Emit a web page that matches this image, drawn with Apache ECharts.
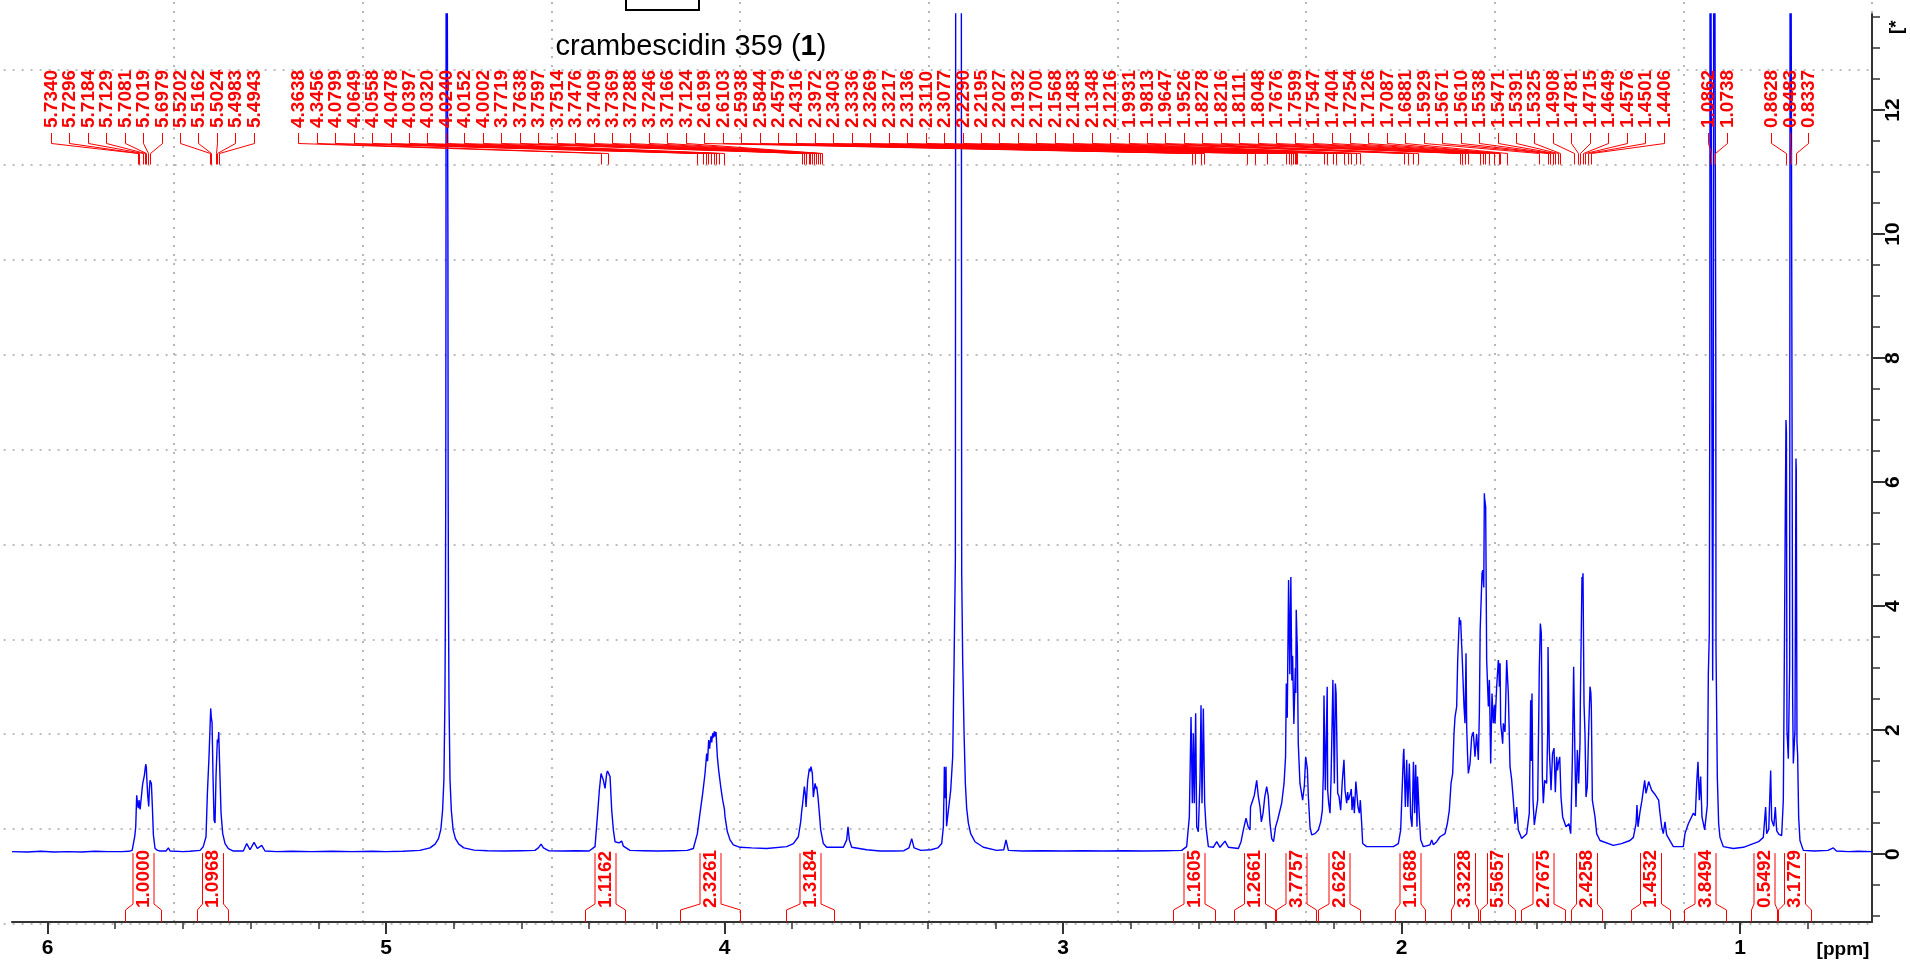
<!DOCTYPE html>
<html><head><meta charset="utf-8">
<script src="https://cdn.jsdelivr.net/npm/echarts@6/dist/echarts.min.js"></script>
<style>html,body{margin:0;padding:0;background:#fff;}#chart{width:1910px;height:962px;}</style>
</head><body><div id="chart"></div>
<script>
const FONT = '"Liberation Sans", Arial, Helvetica, sans-serif';

// ---- spectrum trace [ppm, intensity] ----
const specA = [[6.105,0.04],[6.06,0.035],[6.02,0.045],[5.98,0.035],[5.94,0.04],[5.90,0.035],[5.86,0.045],[5.82,0.04],[5.78,0.04],[5.76,0.045],[5.750,0.06],
[5.7464,0.09],[5.7420,0.30],[5.7395,0.44],[5.7366,0.95],[5.7340,0.80],[5.7317,0.74],[5.7296,0.87],[5.7265,0.72],[5.7248,0.71],[5.7198,1.09],[5.7184,1.15],[5.7139,1.27],[5.7100,1.45],[5.7081,1.40],[5.7070,1.25],[5.7041,0.95],[5.7011,0.77],[5.6990,1.05],[5.6972,1.19],[5.6932,1.14],[5.6903,0.76],[5.6873,0.31],[5.6824,0.09],[5.6750,0.06],[5.6676,0.05],[5.6500,0.05],[5.6430,0.10],[5.6380,0.05],[5.6332,0.04],[5.60,0.04]];
const specB = [[5.58,0.045],[5.5495,0.06],[5.5400,0.12],[5.5318,0.28],[5.5278,0.98],[5.5229,1.58],[5.5202,2.0],[5.5180,2.35],[5.5162,2.2],[5.5140,2.13],[5.5111,1.25],[5.5081,0.55],[5.5052,0.50],[5.5022,1.27],[5.4983,1.85],[5.4960,1.80],[5.4943,1.97],[5.4914,1.41],[5.4874,0.66],[5.4825,0.33],[5.4756,0.17],[5.4658,0.09],[5.4510,0.05],[5.4215,0.05],[5.4116,0.17],[5.4018,0.07],[5.3899,0.19],[5.3801,0.09],[5.3673,0.14],[5.3575,0.05],[5.3230,0.04],[5.28,0.045],[5.22,0.04],[5.16,0.045],[5.10,0.04],[5.04,0.045],[5.0,0.04]];
const specC = [[4.95,0.045],[4.90,0.06],[4.87,0.10],[4.855,0.16],[4.845,0.25],[4.838,0.40],[4.833,0.70],[4.829,1.2],[4.826,2.5],[4.8245,4],[4.8235,6],[4.8228,10],[4.822,20],[4.818,20],[4.8172,10],[4.8165,6],[4.8155,4],[4.814,2.5],[4.811,1.2],[4.807,0.7],[4.802,0.4],[4.795,0.25],[4.785,0.16],[4.77,0.10],[4.74,0.065],[4.70,0.055],[4.65,0.05],[4.60,0.055],[4.56,0.06],[4.550,0.10],[4.542,0.16],[4.535,0.10],[4.52,0.055],[4.48,0.05],[4.44,0.055],[4.40,0.05]];
const specD = [[4.3826,0.12],[4.3757,0.60],[4.3698,1.03],[4.3648,1.30],[4.3609,1.27],[4.3579,1.19],[4.3530,1.06],[4.3481,1.30],[4.3456,1.34],[4.3432,1.32],[4.3382,1.25],[4.3333,0.71],[4.3284,0.39],[4.3235,0.20],[4.3186,0.23],[4.3117,0.18],[4.3038,0.21],[4.2989,0.13],[4.2792,0.06],[4.24,0.055],[4.20,0.05],[4.15,0.055],[4.11,0.06],
[4.0921,0.09],[4.0803,0.33],[4.0724,0.66],[4.0645,0.98],[4.0576,1.30],[4.0527,1.62],[4.0500,1.50],[4.0468,1.84],[4.0440,1.70],[4.0428,1.78],[4.0400,1.90],[4.0379,1.80],[4.0350,1.95],[4.0330,1.88],[4.0300,1.98],[4.0281,1.90],[4.0251,1.97],[4.0230,1.75],[4.0212,1.57],[4.0172,1.35],[4.0152,1.38],[4.0113,1.09],[4.0054,0.87],[4.0002,0.72],[3.9985,0.60],[3.9916,0.36],[3.9837,0.23],[3.9739,0.15],[3.9542,0.11],[3.92,0.10],[3.8754,0.09],[3.8163,0.12],
[3.7966,0.17],[3.7819,0.28],[3.7750,0.52],[3.7719,0.70],[3.7691,0.82],[3.7641,1.09],[3.7610,0.95],[3.7592,0.76],[3.7543,1.19],[3.7514,1.30],[3.7494,1.38],[3.7476,1.33],[3.7445,1.41],[3.7405,1.30],[3.7376,0.92],[3.7326,1.14],[3.7288,1.05],[3.7277,1.09],[3.7238,0.92],[3.7198,0.66],[3.7159,0.39],[3.7080,0.17],[3.6982,0.11],[3.6489,0.11],[3.6391,0.23],[3.6352,0.44],[3.6312,0.23],[3.6243,0.11],[3.5800,0.07],[3.5406,0.05]];
const specE = [[3.50,0.05],[3.47,0.055],[3.455,0.10],[3.447,0.25],[3.440,0.10],[3.42,0.06],[3.39,0.07],[3.37,0.10],[3.3584,0.17],[3.3535,0.44],[3.3515,1.0],[3.3505,1.41],[3.3480,0.9],[3.3456,1.41],[3.3440,0.45],[3.3387,0.44],[3.3318,1.03],[3.3259,1.57],[3.3220,3.02],[3.3180,4.74],[3.3165,20],[3.3010,20],[3.2993,4.53],[3.2964,3.13],[3.2924,1.97],[3.2885,1.14],[3.2846,0.74],[3.2796,0.50],[3.2728,0.33],[3.2600,0.20],[3.2353,0.11],[3.1959,0.06],[3.1750,0.07],[3.1684,0.23],[3.1615,0.06],[3.12,0.05],[3.06,0.055],[3.00,0.05],[2.94,0.055],[2.88,0.05],[2.82,0.055],[2.76,0.05],[2.70,0.055]];
const specF = [[2.6494,0.06],[2.6347,0.12],[2.6268,0.60],[2.6218,2.21],[2.6179,0.82],[2.6150,1.95],[2.6120,0.82],[2.6081,2.27],[2.6051,0.44],[2.6002,0.36],[2.5953,1.19],[2.5923,2.40],[2.5894,0.82],[2.5854,2.35],[2.5815,0.82],[2.5775,0.44],[2.5706,0.12],[2.5559,0.11],[2.5460,0.20],[2.5362,0.11],[2.5214,0.21],[2.5116,0.11],[2.4820,0.09],[2.4740,0.20],
[2.4672,0.39],[2.4593,0.58],[2.4530,0.44],[2.4475,0.39],[2.4460,0.76],[2.4347,0.95],[2.4278,1.19],[2.4230,0.93],[2.4180,0.76],[2.4140,0.52],[2.4090,0.66],[2.4040,0.92],[2.3983,1.09],[2.3935,0.93],[2.3885,0.50],[2.3834,0.25],[2.3780,0.20],[2.3720,0.44],[2.3660,0.55],[2.3540,0.82],[2.3470,1.14],[2.3425,1.57],[2.3403,2.75],[2.3375,2.2],[2.3336,4.42],[2.3300,2.9],[2.3269,4.47],[2.3240,2.8],[2.3217,3.2],[2.3180,2.1],[2.3136,3.0],[2.3123,2.6],[2.3110,3.94],[2.3077,3.3],[2.3050,1.79],[2.3000,1.14],[2.2920,0.87],[2.2870,1.10],[2.2831,1.57],[2.2781,1.38],[2.2752,0.93],[2.2703,0.44],[2.2653,0.31],[2.2555,0.33],[2.2456,0.39],[2.2387,0.52],[2.2338,0.71],[2.2309,1.30],[2.2290,2.56],[2.2250,1.03],[2.2195,2.70],[2.2181,1.03],[2.2151,0.82],[2.2112,0.66],[2.2082,1.19],[2.2043,2.32],[2.2027,2.81],[2.1984,1.14],[2.1954,2.75],[2.1932,2.59],[2.1885,0.98],[2.1846,0.93],[2.1797,0.71],[2.1747,1.19],[2.1700,1.52],[2.1669,1.03],[2.1619,0.82],[2.1590,1.0],[2.1568,0.87],[2.1501,1.0],[2.1483,1.05],[2.1462,0.71],[2.1423,0.93],[2.1393,0.66],[2.1348,1.17],[2.1285,0.76],[2.1245,0.66],[2.1216,0.87],[2.1176,0.49],[2.1147,0.17],[2.1029,0.12],[2.06,0.12],[2.0241,0.12]];
const specG = [[2.0093,0.17],[2.0024,0.39],[1.9975,1.14],[1.9945,1.60],[1.9931,1.70],[1.9886,0.76],[1.9847,1.52],[1.9813,0.76],[1.9768,1.46],[1.9729,0.60],[1.9689,0.44],[1.9647,1.49],[1.9611,0.66],[1.9581,1.44],[1.9542,0.44],[1.9526,1.25],[1.9473,0.60],[1.9433,0.23],[1.9355,0.12],[1.9157,0.15],[1.9108,0.23],[1.9059,0.15],[1.8961,0.20],[1.8862,0.28],[1.8714,0.33],[1.8646,0.49],[1.8587,0.71],[1.8537,1.14],[1.8488,1.30],[1.8449,1.94],[1.8419,2.21],[1.8370,2.38],[1.8340,3.13],[1.8291,3.82],[1.8278,3.70],[1.8252,3.77],[1.8222,3.35],[1.8216,3.30],[1.8193,2.97],[1.8153,2.38],[1.8124,2.11],[1.8111,2.60],[1.8094,3.24],[1.8074,2.05],[1.8048,1.60],[1.8025,1.30],[1.7976,1.46],[1.7927,1.89],[1.7878,1.97],[1.7829,1.57],[1.7780,1.94],[1.7730,1.52],[1.7700,2.27],[1.7676,3.61],[1.7621,4.53],[1.7599,4.58],[1.7570,4.30],[1.7552,5.82],[1.7547,5.75],[1.7513,5.60],[1.7484,3.13],[1.7434,2.38],[1.7404,2.81],[1.7365,1.46],[1.7326,2.59],[1.7287,2.11],[1.7254,2.40],[1.7237,2.11],[1.7188,2.70],[1.7139,3.13],[1.7126,3.05],[1.7109,2.70],[1.7087,3.08],[1.7070,2.11],[1.7011,1.78],[1.6991,2.11],[1.6942,1.97],[1.6893,3.13],[1.6881,3.0],[1.6844,2.59],[1.6794,1.41],[1.6745,1.20],[1.6696,0.87],[1.6647,0.49],[1.6598,0.76],[1.6548,0.39],[1.6450,0.25]];
const specH = [[1.6302,0.33],[1.6224,0.66],[1.6184,2.48],[1.6165,1.5],[1.6145,2.59],[1.6115,0.87],[1.6076,0.47],[1.6020,0.50],[1.5977,0.87],[1.5938,2.54],[1.5929,3.0],[1.5898,3.72],[1.5869,3.56],[1.5839,1.25],[1.5810,0.82],[1.5770,1.19],[1.5711,1.14],[1.5680,2.0],[1.5671,3.34],[1.5633,1.68],[1.5610,1.40],[1.5583,1.03],[1.5538,1.62],[1.5495,1.71],[1.5471,1.30],[1.5455,1.00],[1.5416,1.57],[1.5391,1.35],[1.5367,1.46],[1.5325,1.57],[1.5288,0.92],[1.5239,0.60],[1.5140,0.44],[1.5052,0.49],[1.5002,0.33],[1.4953,1.51],[1.4914,3.02],[1.4874,1.51],[1.4845,0.76],[1.4805,1.68],[1.4781,1.40],[1.4766,1.14],[1.4727,1.78],[1.4715,2.5],[1.4668,4.47],[1.4649,4.40],[1.4638,4.53],[1.4608,2.43],[1.4579,1.94],[1.4549,0.92],[1.4510,1.09],[1.4480,1.8],[1.4431,2.70],[1.4406,2.60],[1.4392,2.38],[1.4362,0.87],[1.4283,0.60],[1.4234,0.33],[1.4136,0.22],[1.3742,0.14],[1.3500,0.17],[1.3250,0.22],[1.3150,0.27],[1.3072,0.49],[1.3043,0.79],[1.3013,0.44],[1.2954,0.68],[1.2895,0.87],[1.2816,1.19],[1.2777,0.98],[1.2698,1.17],[1.2609,1.03],[1.2521,0.97],[1.2403,0.87],[1.2363,0.66],[1.2314,0.44],[1.2265,0.33],[1.2216,0.52],[1.2166,0.31],[1.1969,0.12]];
const specI = [[1.1674,0.12],[1.1625,0.33],[1.1526,0.49],[1.1379,0.66],[1.1320,0.62],[1.1280,1.14],[1.1241,1.49],[1.1201,0.87],[1.1162,1.25],[1.1123,0.60],[1.1044,0.39],[1.0965,0.79],[1.0935,2.91],[1.0906,3.56],[1.0890,8],[1.0880,20],[1.0846,20],[1.0825,6],[1.0807,2.80],[1.0790,6],[1.0768,20],[1.0728,20],[1.0715,8],[1.0709,3.35],[1.0670,1.25],[1.0630,0.49],[1.0591,0.27],[1.0492,0.12],[1.0197,0.09],[0.99,0.11],[0.9606,0.17],[0.9450,0.20],[0.9311,0.27],[0.9242,0.76],[0.9212,0.33],[0.9150,0.40],[0.9094,1.35],[0.9064,0.55],[0.9000,0.45],[0.8956,0.76],[0.8917,0.38],[0.8850,0.32],[0.8769,0.30],[0.8720,0.87],[0.8690,3.13],[0.8661,5.5],[0.8641,7.0],[0.8628,6.8],[0.8612,2.0],[0.8572,1.54],[0.8533,3.0],[0.8513,20],[0.8474,20],[0.8444,2.5],[0.8424,1.46],[0.8375,2.0],[0.8346,6.38],[0.8337,6.2],[0.8316,1.8],[0.8297,1.6],[0.8267,0.6],[0.8228,0.22],[0.8129,0.06],[0.78,0.05],[0.74,0.06],[0.7243,0.10],[0.715,0.05],[0.68,0.04],[0.65,0.045],[0.61,0.04]];

// ---- peak pick labels (ppm text), in label blocks ----
const peakBlockA = ['5.7340','5.7296','5.7184','5.7129','5.7081','5.7019','5.6979','5.5202','5.5162','5.5024','5.4983','5.4943'];
const peakBlockB = ['4.3638','4.3456','4.0799','4.0649','4.0558','4.0478','4.0397','4.0320','4.0240','4.0152','4.0002',
 '3.7719','3.7638','3.7597','3.7514','3.7476','3.7409','3.7369','3.7288','3.7246','3.7166','3.7124',
 '2.6199','2.6103','2.5938','2.5844','2.4579','2.4316','2.3972','2.3403','2.3336','2.3269','2.3217','2.3136','2.3110','2.3077',
 '2.2290','2.2195','2.2027','2.1932','2.1700','2.1568','2.1483','2.1348','2.1216','1.9931','1.9813','1.9647','1.9526',
 '1.8278','1.8216','1.8111','1.8048','1.7676','1.7599','1.7547','1.7404','1.7254','1.7126','1.7087','1.6881',
 '1.5929','1.5671','1.5610','1.5538','1.5471','1.5391','1.5325','1.4908','1.4781','1.4715','1.4649','1.4576','1.4501','1.4406'];
const peakBlockC = ['1.0862','1.0738'];
const peakBlockD = ['0.8628','0.8483','0.8337'];

// ---- integrals ----
const integralRanges = [[5.770,5.666],[5.558,5.467],[4.413,4.295],[4.132,3.955],[3.819,3.676],[2.674,2.552],[2.496,2.375],[2.371,2.254],[2.248,2.122],[2.019,1.932],[1.854,1.774],[1.769,1.666],[1.648,1.516],[1.498,1.407],[1.322,1.208],[1.165,1.040],[0.967,0.891],[0.887,0.791]];
const integralValues = ['1.0000','1.0968','1.1162','2.3261','1.3184','1.1605','1.2661','3.7757','2.6262','1.1688','3.3228','5.5657','2.7675','2.4258','1.4532','3.8494','0.5492','3.1779'];

// ---- axes ----
const xMajorTicks = [1,2,3,4,5,6];
const xMinorTicks = [0.8,1.2,1.4,1.6,1.8,2.2,2.4,2.6,2.8,3.2,3.4,3.6,3.8,4.2,4.4,4.6,4.8,5.2,5.4,5.6,5.8];
const yMajorTicks = [0,2,4,6,8,10,12];
const yMinorTicks = [-1,-0.5,0.5,1,1.5,2.5,3,3.5,4.5,5,5.5,6.5,7,7.5,8.5,9,9.5,10.5,11,11.5,12.5,13,13.5];
const titleText = 'crambescidin 359 ({b|1})';

const spectrum = [].concat(specA, specB, specC, specD, specE, specF, specG, specH, specI);
const peakItems = [];
[peakBlockA, peakBlockB, peakBlockC, peakBlockD].forEach((blk, bi) => blk.forEach(s => peakItems.push({text: s, ppm: parseFloat(s), block: bi})));

const LABEL_SEP = 18.45, BLOCK_SEP = 44.5, LABEL_FONT = 19;
function pav(t) {
  const blocks = [];
  for (const v of t) {
    blocks.push({sum: v, cnt: 1});
    while (blocks.length > 1) {
      const b = blocks[blocks.length - 1], a = blocks[blocks.length - 2];
      if (a.sum / a.cnt > b.sum / b.cnt) { a.sum += b.sum; a.cnt += b.cnt; blocks.pop(); } else break;
    }
  }
  const out = [];
  for (const b of blocks) for (let k = 0; k < b.cnt; k++) out.push(b.sum / b.cnt);
  return out;
}
function layoutPeakLabels(api, cs) {
  const n = peakItems.length;
  const ideal = peakItems.map(p => api.coord([p.ppm, 0])[0]);
  const c = [0];
  for (let i = 1; i < n; i++) c[i] = c[i - 1] + (peakItems[i].block !== peakItems[i - 1].block ? BLOCK_SEP : LABEL_SEP);
  const L = cs.x + 36, R = cs.x + cs.width - 64;
  let scale = 1;
  if (c[n - 1] > R - L) scale = (R - L) / c[n - 1];
  const cc = c.map(v => v * scale);
  const y = pav(ideal.map((x, i) => x - cc[i]));
  const hi = R - cc[n - 1];
  return y.map((v, i) => Math.min(Math.max(v, L), hi) + cc[i]);
}
function renderPeakLabel(params, api) {
  const cs = params.coordSys;
  if (!params.context.lx) params.context.lx = layoutPeakLabels(api, cs);
  const i = params.dataIndex;
  const lx = Math.round(params.context.lx[i]) + 0.5;
  const px = Math.round(api.coord([peakItems[i].ppm, 0])[0]) + 0.5;
  const top = cs.y;
  return {type: 'group', silent: true, children: [
    {type: 'polyline', shape: {points: [[lx, top + 119], [lx, top + 129.5], [px, top + 139.5], [px, top + 150.5]]},
     style: {stroke: '#ff0000', lineWidth: 1, fill: null}},
    {type: 'text', x: lx, y: top + 114, rotation: Math.PI / 2,
     style: {text: peakItems[i].text, fill: '#ff0000', fontSize: LABEL_FONT, fontWeight: 'bold', fontFamily: FONT, align: 'left', verticalAlign: 'middle'}}
  ]};
}
function renderIntegral(params, api) {
  const cs = params.coordSys;
  const i = params.dataIndex;
  const r = integralRanges[i];
  const x1 = Math.round(api.coord([r[0], 0])[0]) + 0.5;
  const x2 = Math.round(api.coord([r[1], 0])[0]) + 0.5;
  const y0 = api.coord([r[0], 0])[1];
  const bottom = cs.y + cs.height;
  const cx = (x1 + x2) / 2, h = 10.5;
  const f1 = bottom - 18, f2 = bottom - 12;
  const st = {stroke: '#ff0000', lineWidth: 1, fill: null};
  return {type: 'group', silent: true, children: [
    {type: 'polyline', shape: {points: [[cx - h, y0 - 1], [cx - h, f1], [x1, f2], [x1, bottom]]}, style: st},
    {type: 'polyline', shape: {points: [[cx + h, y0 - 1], [cx + h, f1], [x2, f2], [x2, bottom]]}, style: st},
    {type: 'text', x: cx, y: f1 + 4, rotation: Math.PI / 2,
     style: {text: integralValues[i], fill: '#ff0000', fontSize: LABEL_FONT, fontWeight: 'bold', fontFamily: FONT, align: 'left', verticalAlign: 'middle'}}
  ]};
}

const axisColor = '#333';
const chart = echarts.init(document.getElementById('chart'), null, {renderer: 'canvas'});
chart.setOption({
  animation: false,
  backgroundColor: '#fff',
  grid: [
    {left: 12, right: 38, top: 14, bottom: 40, containLabel: false, outerBoundsMode: 'none'},
    {left: -14.4, right: 38, top: -25, bottom: 38, containLabel: false, outerBoundsMode: 'none'}
  ],
  xAxis: [
    {gridIndex: 0, type: 'value', inverse: true, min: 0.61, max: 6.105, position: 'bottom',
     axisLine: {show: true, onZero: false, lineStyle: {color: axisColor, width: 2}},
     axisTick: {show: true, customValues: xMajorTicks, length: 12, lineStyle: {color: axisColor, width: 2}},
     axisLabel: {show: true, customValues: xMajorTicks, margin: 16, color: '#000', fontSize: 21, fontWeight: 'bold', fontFamily: FONT},
     splitLine: {show: false}},
    {gridIndex: 0, type: 'value', inverse: true, min: 0.61, max: 6.105, position: 'bottom',
     axisLine: {show: false, onZero: false},
     axisTick: {show: true, customValues: xMinorTicks, length: 7, lineStyle: {color: axisColor, width: 1.5}},
     axisLabel: {show: false}, splitLine: {show: false}},
    {gridIndex: 1, type: 'value', min: 0, max: 10, interval: 1,
     axisLine: {show: false}, axisTick: {show: false}, axisLabel: {show: false},
     splitLine: {show: true, lineStyle: {type: [2, 7], color: '#a6a6a6', width: 1.6}}}
  ],
  yAxis: [
    {gridIndex: 0, type: 'value', position: 'right', min: -1.095, max: 13.55,
     axisLine: {show: true, onZero: false, lineStyle: {color: axisColor, width: 2}},
     axisTick: {show: true, customValues: yMajorTicks, length: 13, lineStyle: {color: axisColor, width: 2}},
     axisLabel: {show: true, customValues: yMajorTicks, rotate: 90, margin: 11, color: '#000', fontSize: 21, fontWeight: 'bold', fontFamily: FONT},
     splitLine: {show: false}},
    {gridIndex: 0, type: 'value', position: 'right', min: -1.095, max: 13.55,
     axisLine: {show: false, onZero: false},
     axisTick: {show: true, customValues: yMinorTicks, length: 8, lineStyle: {color: axisColor, width: 1.5}},
     axisLabel: {show: false}, splitLine: {show: false}},
    {gridIndex: 1, type: 'value', min: 0, max: 10, interval: 1,
     axisLine: {show: false}, axisTick: {show: false}, axisLabel: {show: false},
     splitLine: {show: true, lineStyle: {type: [2, 7], color: '#a6a6a6', width: 1.6}}}
  ],
  series: [
    {type: 'line', xAxisIndex: 0, yAxisIndex: 0, data: spectrum, showSymbol: false, symbol: 'none',
     lineStyle: {color: '#0000ff', width: 1.4}, clip: true, z: 3, silent: true},
    {type: 'custom', xAxisIndex: 0, yAxisIndex: 0, renderItem: renderPeakLabel, clip: false, z: 4,
     data: peakItems.map(p => [p.ppm, 0])},
    {type: 'custom', xAxisIndex: 0, yAxisIndex: 0, renderItem: renderIntegral, clip: false, z: 4,
     data: integralRanges.map(r => [(r[0] + r[1]) / 2, 0])}
  ],
  graphic: [
    {type: 'rect', shape: {x: 626, y: -10, width: 73, height: 20}, style: {fill: 'none', stroke: '#000', lineWidth: 2}},
    {type: 'text', x: 691, y: 47, style: {text: titleText, fontSize: 29, fontFamily: FONT, fill: '#000', align: 'center', verticalAlign: 'middle',
      rich: {b: {fontSize: 29, fontFamily: FONT, fontWeight: 'bold', fill: '#000'}}}},
    {type: 'text', x: 1843, y: 950, style: {text: '[ppm]', fontSize: 19, fontWeight: 'bold', fontFamily: FONT, fill: '#000', align: 'center', verticalAlign: 'middle'}},
    {type: 'text', x: 1897, y: 34, rotation: Math.PI / 2, style: {text: '[*', fontSize: 19, fontWeight: 'bold', fontFamily: FONT, fill: '#000', align: 'left', verticalAlign: 'middle'}}
  ]
});
</script></body></html>
